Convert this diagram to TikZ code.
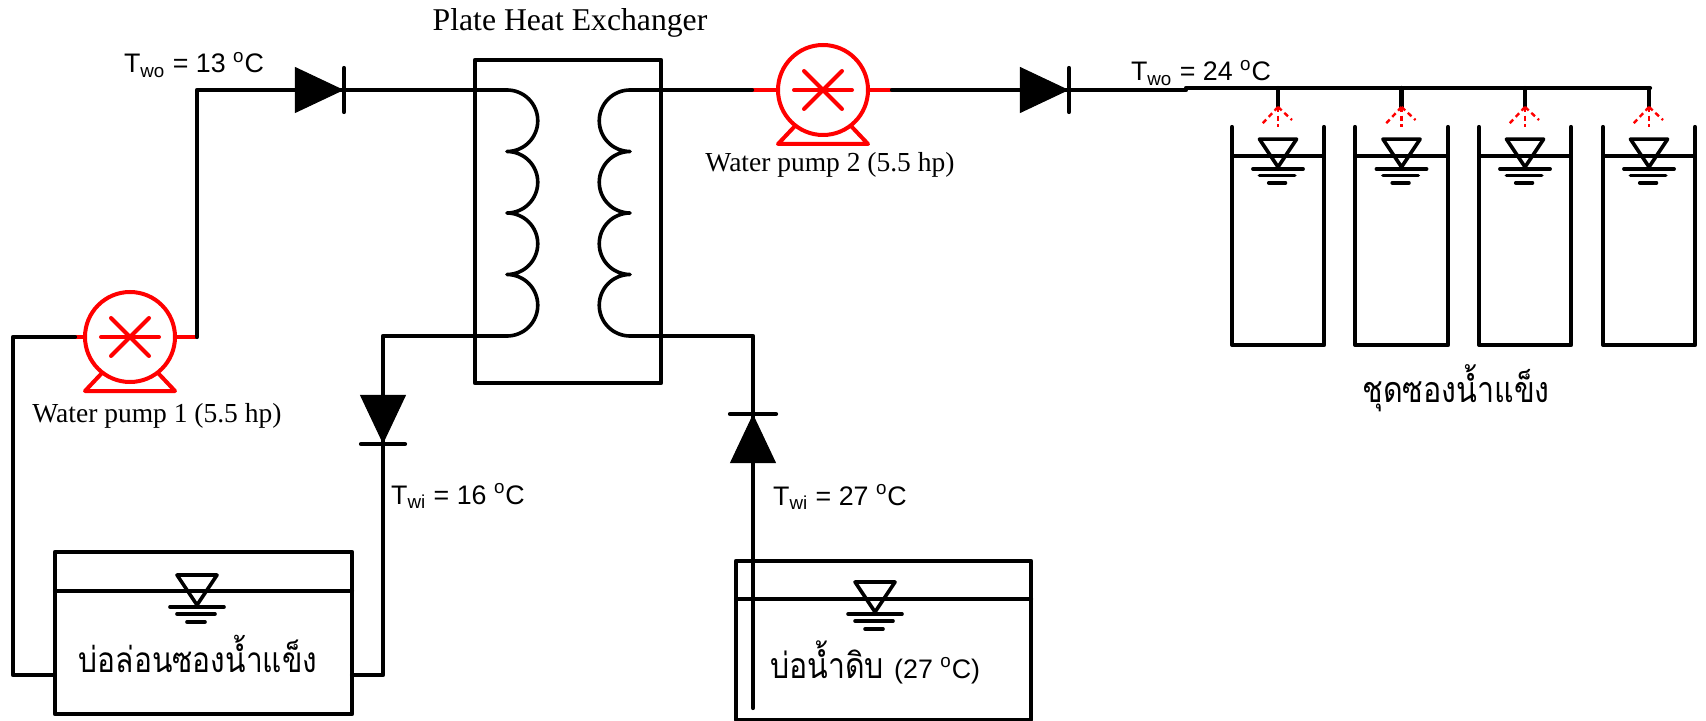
\documentclass[tikz,border=0pt]{standalone}
\usepackage{fontspec}
\setmainfont{Liberation Serif}
\setsansfont{Liberation Sans}
\newfontfamily\thaifont[Script=Thai,FakeStretch=.85]{Loma}
\usepackage{xcolor}
\usetikzlibrary{calc,positioning,shapes.geometric}
\definecolor{pumpred}{HTML}{FF0000}
\tikzset{
  pipe/.style  ={line width=2.1pt, draw=black, line cap=round, line join=round},
  wline/.style ={line width=1.8pt, draw=black, line cap=round, line join=round},
  stub/.style  ={line width=2pt, draw=pumpred},
  pumpc/.style ={circle, draw=pumpred, line width=2pt, minimum size=45pt, inner sep=0pt, outer sep=0pt},
  spray/.style ={line width=1.2pt, draw=pumpred, dash pattern=on 2.5pt off 1.8pt},
  diode/.style ={isosceles triangle, isosceles triangle stretches, fill=black, draw=black,
                 line width=.5pt, inner sep=0pt, minimum width=22.4pt, minimum height=23.7pt,
                 shape border rotate=#1},
  tank/.style  ={rectangle, draw=black, line width=2.1pt, inner sep=0pt, outer sep=0pt, line join=round},
  lblt/.style  ={font=\fontsize{#1}{15}\selectfont, anchor=base},
  lbla/.style  ={font=\sffamily\fontsize{13.4}{15}\selectfont, anchor=base},
  lblk/.style  ={font=\thaifont\fontsize{#1}{20}\selectfont, anchor=base},
  pics/wlevel/.style={code={
    \draw[wline] (-20,-30)--(20,-30)--(0,0)--cycle;
    \draw[wline] (-27,2)--(27,2);
    \draw[wline] (-20,9)--(18,9);
    \draw[wline] (-10,17)--(8,17);
  }},
}
\begin{document}
\begin{tikzpicture}[x=.5pt,y=-.5pt]
  \useasboundingbox (0,0) rectangle (1706,721);
  % heat exchanger
  \node[tank, minimum width=93pt, minimum height=161.5pt, anchor=north west](hx) at (475,60){};
  \node[lblt=15.85] (hxlbl) at (570,31){Plate Heat Exchanger};
  \coordinate (hxla) at (507,90);
  \coordinate (hxlb) at (507,336);
  \coordinate (hxra) at (630,90);
  \coordinate (hxrb) at (630,336);
  \draw[wline] (hxla) foreach \i in {1,2,3,4}{arc[start angle=-90,end angle=90,radius=30.75]};
  \draw[wline] (hxra) foreach \i in {1,2,3,4}{arc[start angle=-90,end angle=-270,radius=30.75]};
  % pumps
  \node[pumpc](pump1) at (130,337){};
  \node[pumpc](pump2) at (823,90){};
  \foreach \p/\a/\b in {pump1/-10/22,pump2/-26/24}{
    \draw[stub,line cap=round] ($(\p)+(-29,0)$)--($(\p)+(29,0)$);
    \draw[stub,line cap=round] ($(\p)+(-19,-19)$)--($(\p)+(19,19)$);
    \draw[stub,line cap=round] ($(\p)+(-19,19)$)--($(\p)+(19,-19)$);
    \draw[stub,line join=round] ($(\p)+(-28,36)$)--($(\p)+(-45,54)$)--($(\p)+(45,54)$)--($(\p)+(28,36)$);
    \draw[stub] (\p.west)--++(\a,0) coordinate (\p-in);
    \draw[stub] (\p.east)--++(\b,0) coordinate (\p-out);
  }
  \node[lblt=13.75] (p1lbl) at (157,422){Water pump 1 (5.5 hp)};
  \node[lblt=13.75] (p2lbl) at (830,172){Water pump 2 (5.5 hp)};
  % check valves
  \node[diode=0, anchor=apex](dv1) at (344,90){};
  \node[diode=0, anchor=apex](dv2) at (1069,90){};
  \node[diode=-90, anchor=apex](dv3) at (383,444){};
  \node[diode=90, anchor=apex](dv4) at (753,414){};
  \draw[pipe] ($(dv1.apex)+(0,-22)$)--($(dv1.apex)+(0,22)$);
  \draw[pipe] ($(dv2.apex)+(0,-22)$)--($(dv2.apex)+(0,22)$);
  \draw[pipe] ($(dv3.apex)+(-22,0)$)--($(dv3.apex)+(22,0)$);
  \draw[pipe] ($(dv4.apex)+(-23,0)$)--($(dv4.apex)+(23,0)$);
  % ponds
  \node[tank, minimum width=148.5pt, minimum height=81pt, anchor=north west](pond1) at (55,552){};
  \node[tank, minimum width=147.5pt, minimum height=79.5pt, anchor=north west](pond2) at (736,561){};
  \draw[pipe] ($(pond1.north west)+(0,39)$)--($(pond1.north east)+(0,39)$);
  \draw[pipe] ($(pond2.north west)+(0,38)$)--($(pond2.north east)+(0,38)$);
  \pic at (197,605) {wlevel};
  \pic at (875,612) {wlevel};
  \node[lblk=17.6] (pond1lbl) at (198,672){บ่อล่อนซองน้ำแข็ง};
  \node[lblk=17.8, anchor=base west] (pond2lbl) at (763,678){บ่อน้ำดิบ \sffamily\fontsize{13.4}{15}\selectfont(27 \textsuperscript{o}C)};
  % pipes
  \coordinate (c1) at (13,337);
  \coordinate (c2) at (13,675);
  \coordinate (c3) at (197,90);
  \coordinate (c4) at (383,336);
  \coordinate (c5) at (383,675);
  \coordinate (c6) at (753,336);
  \coordinate (c7) at (753,708);
  \coordinate (hdr) at (1186,88);
  \coordinate (hdrend) at (1650,88);
  \draw[pipe] (pump1-in)--(c1)--(c2)--(pond1.west|-c2);
  \draw[pipe] (pump1-out)--(c3)--(dv1.apex)--(hxla);
  \draw[pipe] (hxlb)--(c4)--(dv3.apex);
  \draw[pipe] (dv3)--(c5)--(pond1.east|-c5);
  \draw[pipe] (hxra)--(pump2-in);
  \draw[pipe] (pump2-out)--(dv2.apex)--(hdr|-dv2.apex)--(hdr)--(hdrend);
  \draw[pipe] (hxrb)--(c6)--(c7);
  % ice cans
  \foreach \i/\xl/\xr in {1/1232/1324,2/1355/1448,3/1479/1571,4/1603/1695}{
    \coordinate (canl\i) at (\xl,127);
    \coordinate (canr\i) at (\xr,127);
    \draw[pipe] (canl\i)--(\xl,345)--(\xr,345)--(canr\i);
    \draw[wline] ($(canl\i)+(0,29)$)--($(canr\i)+(0,29)$);
    \coordinate (lvl\i) at ($(canl\i)!.5!(canr\i)+(0,40)$);
    \pic[scale=.93] at (lvl\i) {wlevel};
    \coordinate (drop\i) at ($(canl\i)!.5!(canr\i)+(0,-39)$);
    \draw[pipe] (drop\i)--++(0,19) coordinate (noz\i);
    \draw[spray] (noz\i)--++(0,20);
    \draw[spray] (noz\i)--++(-16,17);
    \draw[spray] (noz\i)--++(14,13);
  }
  \node[lblk=17.9] (canlbl) at (1456,402){ชุดซองน้ำแข็ง};
  % temperatures
  \node[lbla] (t1) at (194,73){T\textsubscript{wo} = 13 \textsuperscript{o}C};
  \node[lbla] (t2) at (1201,81){T\textsubscript{wo} = 24 \textsuperscript{o}C};
  \node[lbla] (t3) at (458,504){T\textsubscript{wi} = 16 \textsuperscript{o}C};
  \node[lbla] (t4) at (840,505){T\textsubscript{wi} = 27 \textsuperscript{o}C};
\end{tikzpicture}
\end{document}
